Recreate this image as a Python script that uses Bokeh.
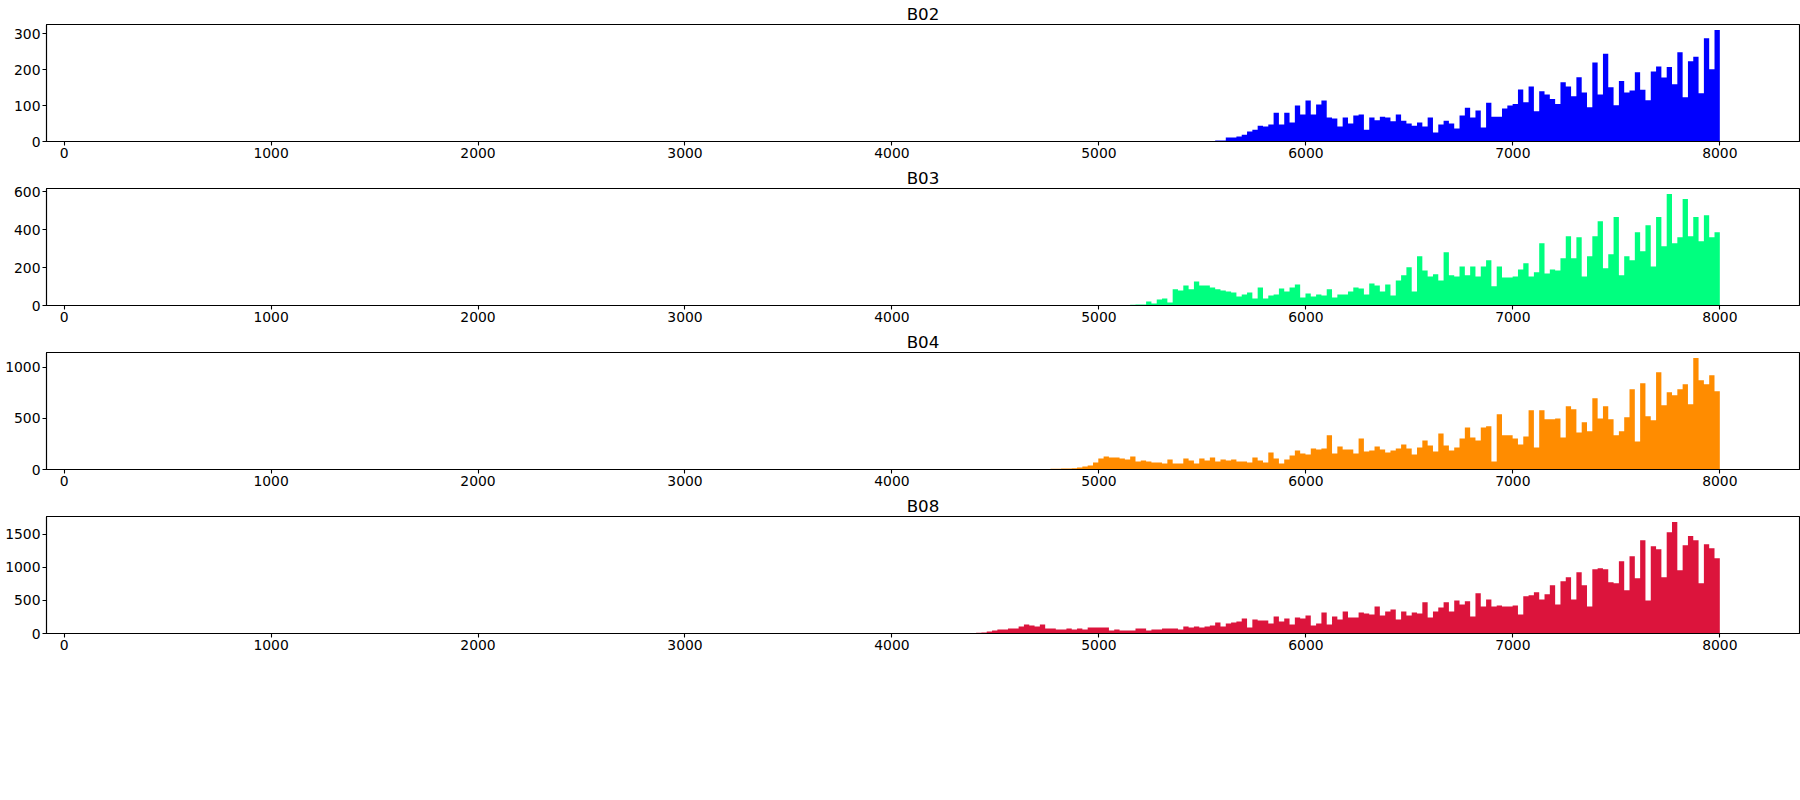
import numpy as np
from bokeh.plotting import figure
from bokeh.models import Range1d, SingleIntervalTicker
from bokeh.layouts import column
from bokeh.embed import file_html
from bokeh.resources import INLINE

# histogram bins shared by all bands
BIN_LO = 300
BIN_HI = 8000
N_BINS = 300

band_names = ["B02", "B03", "B04", "B08"]
band_colors = ["#0000ff", "#00ff7f", "#ff8c00", "#dc143c"]
y_tick_steps = [100, 200, 500, 500]

# index of the first non-empty bin of each band
b02_first_bin = 205
b03_first_bin = 188
b04_first_bin = 172
b08_first_bin = 160

b02_counts = [3, 3, 11, 11, 14, 19, 28, 33, 44, 42, 47, 80, 47, 80, 53, 100, 75, 114, 75, 103,
              114, 67, 64, 42, 67, 50, 72, 75, 33, 67, 59, 69, 67, 56, 75, 58, 50, 44, 53, 42,
              67, 25, 47, 58, 50, 36, 72, 94, 67, 86, 39, 108, 69, 69, 92, 100,
              104, 145, 109, 153, 84, 140, 131, 118, 104, 165, 153, 126, 179, 136, 95, 220, 131,
              244, 151, 101, 168, 136, 142, 193, 144, 115, 195, 209, 178, 207, 159, 248, 123,
              223, 236, 134, 287, 201, 310]

b03_counts = [3, 4, 5, 5, 21, 11, 32, 37, 16, 85, 79, 106, 85, 127, 106, 106, 95, 85, 79, 74,
              69, 48, 58, 69, 37, 95, 37, 53, 58, 90, 74, 95, 111, 42, 63, 48, 58, 53, 85, 42,
              58, 58, 74, 95, 90, 58, 116, 106, 74, 111, 53, 132, 159, 201, 74, 259,
              185, 153, 164, 132, 280, 159, 153, 206, 159, 206, 153, 206, 238, 101, 206, 148,
              148, 153, 190, 222, 153, 175, 328, 169, 190, 185, 249, 365, 249, 360, 153, 259,
              365, 444, 196, 270, 466, 159, 259, 238, 386, 286, 423, 206, 466, 312, 587, 328,
              360, 561, 365, 466, 339, 476, 360, 386]

b04_counts = [5, 6, 7, 8, 9, 10, 12, 20, 29, 39, 69, 108, 128, 118, 118, 108, 98, 128, 78, 88,
              78, 69, 69, 59, 98, 59, 59, 108, 88, 59, 108, 88, 118, 78, 98, 88, 98, 78, 78, 69,
              118, 88, 69, 167, 108, 59, 98, 137, 186, 157, 147, 206, 196, 206, 334, 157, 226,
              196, 196, 157, 304, 177, 186, 226,
              196, 167, 186, 206, 245, 206, 147, 216, 284, 235, 177, 353, 235, 186, 216, 304,
              412, 314, 284, 412, 422, 78, 540, 334, 334, 304, 245, 324, 579, 216, 579, 491,
              491, 500, 314, 618, 589, 363, 461, 373, 697, 500, 618, 491, 334, 373, 510, 785,
              275, 844, 520, 481, 952, 628, 755, 726, 785, 834, 638, 1090, 873, 834, 922, 765]

b08_counts = [10, 15, 30, 45, 61, 61, 76, 76, 106, 136, 121, 106, 136, 76, 76, 61, 61, 76, 61, 76,
              61, 91, 91, 91, 91, 45, 61, 45, 45, 45, 76, 76, 45, 61, 61, 76, 76, 76, 61, 106,
              91, 106, 91, 106, 121, 167, 106, 152, 167, 182, 227, 91, 212, 197, 197, 152, 258,
              182, 227, 136, 242, 227, 273, 121, 152, 318, 136, 258, 212, 333,
              242, 242, 318, 303, 288, 409, 273, 333, 364, 212, 333, 273, 318, 303, 470, 242,
              333, 394, 470, 333, 500, 439, 485, 258, 606, 409, 515, 409, 424, 409, 409, 424,
              288, 561, 576, 621, 515, 591, 727, 439, 788, 848, 515, 924, 727, 409, 970, 985,
              970, 773, 758, 1091, 652, 1167, 833, 1409, 500, 1318, 1273, 848, 1530, 1682, 955,
              1333, 1470, 1409, 758, 1348, 1288, 1136]

first_bins = [b02_first_bin, b03_first_bin, b04_first_bin, b08_first_bin]
all_counts = [b02_counts, b03_counts, b04_counts, b08_counts]

edges = np.linspace(BIN_LO, BIN_HI, N_BINS + 1)
span = BIN_HI - BIN_LO
x_lo = BIN_LO - 0.05 * span
x_hi = BIN_HI + 0.05 * span

FONT = "DejaVu Sans"
figs = []
for name, color, step, first, counts in zip(band_names, band_colors, y_tick_steps,
                                            first_bins, all_counts):
    counts = np.array(counts, dtype=float)
    n = len(counts)
    xs = edges[first:first + n + 1]
    ys = np.append(counts, 0.0)
    p = figure(frame_width=1753, frame_height=117,
               x_range=Range1d(x_lo, x_hi), y_range=Range1d(0, counts.max() * 1.05),
               output_backend="svg", toolbar_location=None, title=name,
               min_border_left=46, min_border_right=1, min_border_top=24,
               min_border_bottom=23)
    p.varea_step(x=xs, y1=0, y2=ys, step_mode="after", fill_color=color)
    p.title.text_font = FONT
    p.title.text_font_size = "16.7px"
    p.title.text_font_style = "normal"
    p.title.align = "center"
    p.title.standoff = 1
    p.title.text_color = "black"
    p.xgrid.visible = False
    p.ygrid.visible = False
    p.outline_line_color = "black"
    p.outline_line_alpha = 1
    p.outline_line_width = 1.1
    p.background_fill_color = "white"
    p.border_fill_color = "white"
    p.xaxis.ticker = SingleIntervalTicker(interval=1000)
    p.yaxis.ticker = SingleIntervalTicker(interval=step)
    for ax in (p.xaxis[0], p.yaxis[0]):
        ax.axis_line_color = "black"
        ax.axis_line_width = 1.1
        ax.major_tick_in = 0
        ax.major_tick_out = 4
        ax.major_tick_line_width = 1.1
        ax.major_tick_line_color = "black"
        ax.minor_tick_line_color = None
        ax.major_label_text_font = FONT
        ax.major_label_text_font_size = "13.9px"
        ax.major_label_text_color = "black"
        ax.major_label_standoff = 2
    figs.append(p)

layout = column(*figs, spacing=0)
open("out.html", "w").write(file_html(layout, INLINE))
